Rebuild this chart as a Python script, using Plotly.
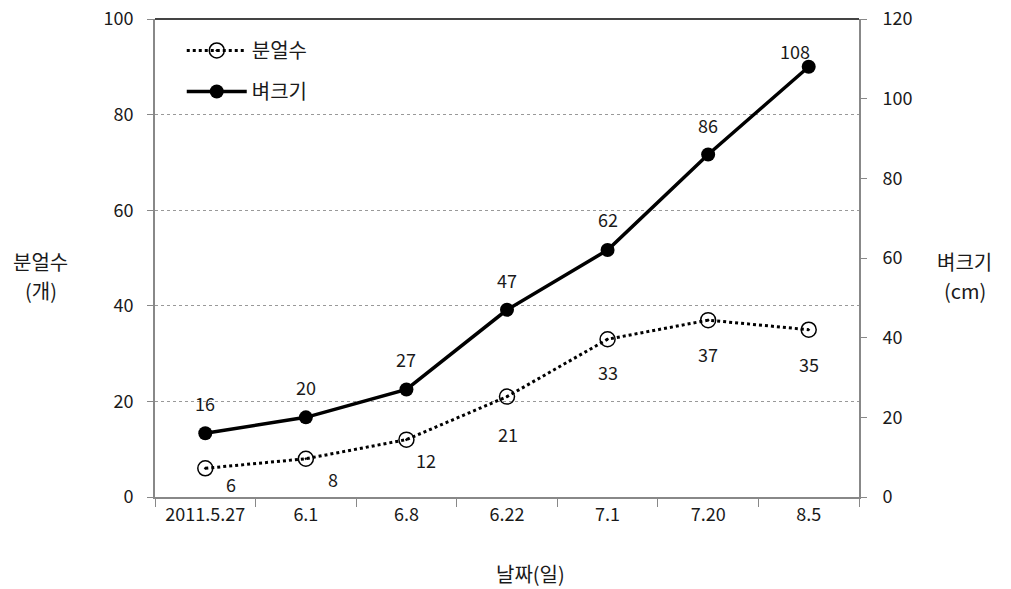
import plotly.graph_objects as go

categories = ["2011.5.27", "6.1", "6.8", "6.22", "7.1", "7.20", "8.5"]
tillers = [6, 8, 12, 21, 33, 37, 35]          # 분얼수 (개), left axis
height = [16, 20, 27, 47, 62, 86, 108]        # 벼크기 (cm), right axis
left_ticks = [0, 20, 40, 60, 80, 100]
right_ticks = [0, 20, 40, 60, 80, 100, 120]

FONT = "Noto Sans CJK KR, Noto Sans, sans-serif"
TXT = "#1a1a1a"
NUM = 18
KOR = 20

fig = go.Figure()
fig.add_trace(go.Scatter(
    x=categories, y=tillers, name="분얼수", mode="lines+markers", legendgroup="a",
    line=dict(color="black", width=3, dash="dot"),
    marker=dict(symbol="circle-open-dot", size=15, color="black",
                line=dict(color="black", width=1.5)),
    yaxis="y"))
fig.add_trace(go.Scatter(
    x=categories, y=height, name="벼크기", mode="lines+markers", legendgroup="b",
    line=dict(color="black", width=3.5),
    marker=dict(symbol="circle", size=14, color="black"),
    yaxis="y2"))

# data labels (x given as category index)
t_off = [(26, -16), (27, -20), (20, -20), (1, -37), (0, -33), (0, -34), (0, -34)]
h_off = [(0, 30), (0, 30), (0, 30), (0, 30), (0, 31), (0, 29), (-14, 16)]
for i, (v, (dx, dy)) in enumerate(zip(tillers, t_off)):
    fig.add_annotation(x=i, xref="x", y=v, yref="y", text=str(v), showarrow=False,
                       xshift=dx, yshift=dy, font=dict(size=NUM, color=TXT, family=FONT))
for i, (v, (dx, dy)) in enumerate(zip(height, h_off)):
    fig.add_annotation(x=i, xref="x", y=v, yref="y2", text=str(v), showarrow=False,
                       xshift=dx, yshift=dy, font=dict(size=NUM, color=TXT, family=FONT))

# axis titles (each line separately)
for txt, xp, yp in [("분얼수", -0.162, 0.492), ("(개)", -0.162, 0.433),
                    ("벼크기", 1.15, 0.492), ("(cm)", 1.15, 0.433),
                    ("날짜(일)", 0.533, -0.161)]:
    fig.add_annotation(x=xp, y=yp, xref="paper", yref="paper", text=txt,
                       xanchor="center", yanchor="middle", showarrow=False,
                       font=dict(size=KOR, color=TXT, family=FONT))

# top frame line
fig.add_shape(type="line", xref="paper", yref="paper", x0=0, x1=1, y0=1, y1=1,
              line=dict(color="#444", width=2))

fig.update_layout(
    width=1011, height=589,
    margin=dict(l=155, r=152, t=19, b=92),
    paper_bgcolor="white", plot_bgcolor="white",
    font=dict(family=FONT, size=NUM, color=TXT),
    showlegend=True,
    legend=dict(x=0.038, y=0.975, xanchor="left", yanchor="top",
                bgcolor="rgba(0,0,0,0)", font=dict(size=KOR, color=TXT, family=FONT),
                itemwidth=60, tracegroupgap=12),
    xaxis=dict(type="category", tickson="boundaries", ticks="outside", ticklen=8,
               tickcolor="#888", showline=True, linecolor="#888", linewidth=2,
               showgrid=False, tickfont=dict(size=NUM, color=TXT), range=[-0.5, 6.5],
               automargin=False),
    yaxis=dict(range=[0, 100], tickvals=left_ticks, ticks="outside", ticklen=6,
               tickcolor="#888", showline=True, linecolor="#888", linewidth=2,
               showgrid=True, gridcolor="#999", griddash="dot", gridwidth=1,
               zeroline=False, tickfont=dict(size=NUM, color=TXT), ticklabelstandoff=10,
               automargin=False, ticklabeloverflow="allow"),
    yaxis2=dict(range=[0, 120], tickvals=right_ticks, overlaying="y", side="right",
                ticks="outside", ticklen=6, tickcolor="#888", showline=True,
                linecolor="#888", linewidth=2, showgrid=False, zeroline=False,
                tickfont=dict(size=NUM, color=TXT), ticklabelstandoff=12,
                automargin=False, ticklabeloverflow="allow"),
)

fig.write_html("out.html", config={"displayModeBar": False},
               post_script="document.body.style.margin='0';")
